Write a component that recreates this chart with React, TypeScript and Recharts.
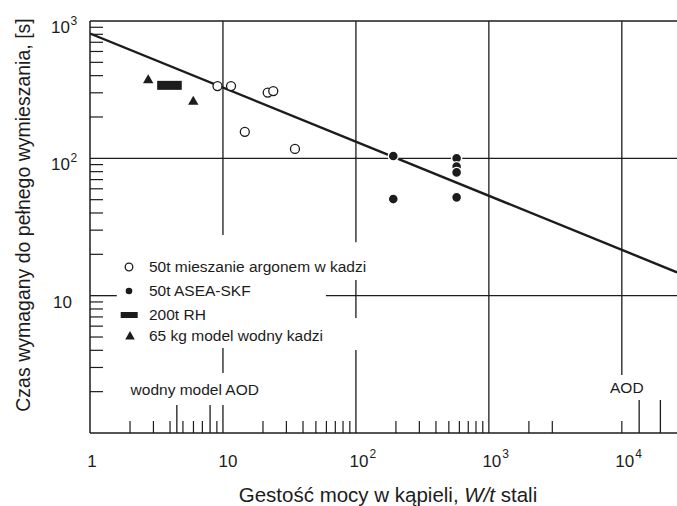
import React from 'react';
import {
  ComposedChart,
  Scatter,
  XAxis,
  YAxis,
  ReferenceLine,
  ReferenceDot,
  Legend,
} from 'recharts';

// punkty pomiarowe (x: W/t, y: s)
const argon50t = [
  { x: 9.1, y: 336 },
  { x: 11.5, y: 336 },
  { x: 21.7, y: 301 },
  { x: 23.9, y: 309 },
  { x: 14.6, y: 156 },
  { x: 34.8, y: 117 },
];
const aseaSkf50t = [
  { x: 191, y: 104 },
  { x: 191, y: 50.5 },
  { x: 572, y: 100 },
  { x: 572, y: 87 },
  { x: 572, y: 79 },
  { x: 572, y: 52 },
];
const rh200t = [
  { x: 3.2, y: 340 },
  { x: 4.9, y: 340 },
];
const waterModel65kg = [
  { x: 2.74, y: 373 },
  { x: 5.98, y: 260 },
];
const fitLine = [
  { x: 1, y: 810 },
  { x: 26000, y: 14.8 },
];

const legendLabels = [
  '50t mieszanie argonem w kadzi',
  '50t ASEA-SKF',
  '200t RH',
  '65 kg model wodny kadzi',
];

const xMajorTicks = [1, 10, 100, 1000, 10000];
const xMinorTicks = [
  2, 3, 4, 5, 6, 7, 9,
  20, 30, 40, 50, 60, 70, 80, 90,
  200, 300, 400, 500, 600, 700, 800, 900,
  2000, 3000,
];
const yMajorTicks = [10, 100, 1000];
const yMinorTicks = [
  2, 3, 4, 5, 6, 7, 8, 9,
  20, 30, 40, 50, 60, 70, 80, 90,
  200, 300, 400, 500, 600, 700, 800, 900,
];

// linie siatki z przerwami (jak na oryginale)
const verticalGrid = [
  { x: 10, from: 27.6, to: 1000 },
  { x: 10, from: 2.73, to: 4.16 },
  { x: 100, from: 24.5, to: 1000 },
  { x: 100, from: 6.87, to: 13.0 },
  { x: 100, from: 1, to: 4.02 },
  { x: 1000, from: 1, to: 1000 },
  { x: 10000, from: 2.64, to: 1000 },
];
const horizontalGrid = [
  { y: 1000, from: 1, to: 26000 },
  { y: 100, from: 1, to: 26000 },
  { y: 10, from: 1, to: 1.59 },
  { y: 10, from: 59.5, to: 26000 },
];
const rangeMarks = [
  { x: 4.5, top: 1.6 },
  { x: 8, top: 1.6 },
  { x: 10, top: 1.6 },
  { x: 13500, top: 1.74 },
  { x: 19500, top: 1.74 },
];
const annotations = [
  { x: 6.14, y: 2.09, text: 'wodny model AOD' },
  { x: 10900, y: 2.13, text: 'AOD' },
];

const INK = '#1c1c1c';
const FONT = '"Liberation Sans", Arial, Helvetica, sans-serif';

const MinorX = ({ x, y }: any) => (
  <line x1={x} x2={x} y1={y} y2={y - 12} stroke={INK} strokeWidth={1.2} />
);

const XTick = ({ x, y, payload }: any) => {
  const v = payload.value;
  if (!xMajorTicks.includes(v)) return <MinorX x={x} y={y} />;
  if (v === 1) {
    return (
      <text x={x + 2} y={y + 34} textAnchor="middle" fontSize={17} fontFamily={FONT} fill={INK}>
        1
      </text>
    );
  }
  const exp = Math.round(Math.log10(v));
  if (exp === 1) {
    return (
      <text x={x + 5} y={y + 34} textAnchor="middle" fontSize={17} fontFamily={FONT} fill={INK}>
        10
      </text>
    );
  }
  return (
    <g>
      {v === 10000 && <MinorX x={x} y={y} />}
      <text x={x + 3} y={y + 34} textAnchor="middle" fontSize={17} fontFamily={FONT} fill={INK}>
        10
      </text>
      <text x={x + 13.5} y={y + 25} textAnchor="start" fontSize={12} fontFamily={FONT} fill={INK}>
        {exp}
      </text>
    </g>
  );
};

const YTick = ({ x, y, payload }: any) => {
  const v = payload.value;
  if (yMajorTicks.includes(v)) {
    const exp = Math.round(Math.log10(v));
    if (exp === 1) {
      return (
        <text x={x - 18} y={y + 12} textAnchor="end" fontSize={17} fontFamily={FONT} fill={INK}>
          10
        </text>
      );
    }
    return (
      <g>
        <text x={x - 20} y={y + 12} textAnchor="end" fontSize={17} fontFamily={FONT} fill={INK}>
          10
        </text>
        <text x={x - 19.5} y={y + 4} textAnchor="start" fontSize={12} fontFamily={FONT} fill={INK}>
          {exp}
        </text>
      </g>
    );
  }
  if (yMinorTicks.includes(v)) {
    return <line x1={x} x2={x + 13} y1={y} y2={y} stroke={INK} strokeWidth={1.2} />;
  }
  return <g />;
};

const XTitle = ({ viewBox }: any) => (
  <text
    x={viewBox.x + 298}
    y={viewBox.y + 69}
    textAnchor="middle"
    fontSize={20.5}
    fontFamily={FONT}
    fill={INK}
  >
    Gestość mocy w kąpieli, <tspan fontStyle="italic">W/t</tspan> stali
  </text>
);

const YTitle = ({ viewBox }: any) => (
  <text
    x={viewBox.x + 30}
    y={viewBox.y + 194}
    transform={`rotate(-90, ${viewBox.x + 30}, ${viewBox.y + 194})`}
    textAnchor="middle"
    fontSize={19.5}
    fontFamily={FONT}
    fill={INK}
  >
    Czas wymagany do pełnego wymieszania, [s]
  </text>
);

const OpenCircle = ({ cx, cy }: any) => (
  <circle cx={cx} cy={cy} r={4.5} fill="#fff" stroke={INK} strokeWidth={1.3} />
);
const FilledCircle = ({ cx, cy }: any) => (
  <circle cx={cx} cy={cy} r={5} fill={INK} stroke="#fff" strokeWidth={1.4} />
);
const Triangle = ({ cx, cy }: any) => (
  <polygon points={`${cx},${cy - 5.5} ${cx - 5.2},${cy + 3.5} ${cx + 5.2},${cy + 3.5}`} fill={INK} />
);
const NoShape = () => <g />;

const legendRowTops = [2.3, 26, 50.3, 70.7];

const legendSymbol = (i: number) => {
  if (i === 0) return <circle cx={12} cy={10} r={3.8} fill="#fff" stroke={INK} strokeWidth={1.3} />;
  if (i === 1) return <circle cx={12} cy={10} r={3.3} fill={INK} />;
  if (i === 2) return <rect x={3.7} y={7} width={17} height={6} fill={INK} />;
  return <polygon points="13,5 8.2,13.5 17.8,13.5" fill={INK} />;
};

const renderLegend = () => (
  <div style={{ position: 'relative', width: 270, height: 92, fontFamily: FONT, fontSize: 15.5, color: INK }}>
    {legendLabels.map((label, i) => (
      <div
        key={label}
        style={{ position: 'absolute', left: 0, top: legendRowTops[i], height: 20, width: 270, lineHeight: '20px', whiteSpace: 'nowrap' }}
      >
        <svg width={26} height={20} style={{ position: 'absolute', left: 0, top: 0 }}>
          {legendSymbol(i)}
        </svg>
        <span style={{ position: 'absolute', left: 32, top: 0 }}>{label}</span>
      </div>
    ))}
  </div>
);

export default function App() {
  return (
    <div style={{ position: 'absolute', left: 0, top: 0, width: 677, height: 506, background: '#fff' }}>
      <ComposedChart width={677} height={506} margin={{ top: 21, right: 0, bottom: 0, left: 0 }}>
        <XAxis
          dataKey="x"
          type="number"
          scale="log"
          domain={[1, 26000]}
          allowDataOverflow
          ticks={[...xMajorTicks, ...xMinorTicks]}
          interval={0}
          tick={<XTick />}
          tickLine={false}
          tickSize={0}
          tickMargin={0}
          height={73}
          axisLine={{ stroke: INK, strokeWidth: 1.5 }}
          label={<XTitle />}
        />
        <YAxis
          dataKey="y"
          type="number"
          scale="log"
          domain={[1, 1000]}
          allowDataOverflow
          ticks={[...yMajorTicks, ...yMinorTicks]}
          interval={0}
          tick={<YTick />}
          tickLine={false}
          tickSize={0}
          tickMargin={0}
          width={90}
          axisLine={{ stroke: INK, strokeWidth: 1.5 }}
          label={<YTitle />}
        />

        {horizontalGrid.map((g, i) => (
          <ReferenceLine
            key={`h${i}`}
            segment={[{ x: g.from, y: g.y }, { x: g.to, y: g.y }]}
            stroke={INK}
            strokeWidth={1.3}
            ifOverflow="visible"
          />
        ))}
        {verticalGrid.map((g, i) => (
          <ReferenceLine
            key={`v${i}`}
            segment={[{ x: g.x, y: g.from }, { x: g.x, y: g.to }]}
            stroke={INK}
            strokeWidth={1.3}
            ifOverflow="visible"
          />
        ))}
        {rangeMarks.map((m, i) => (
          <ReferenceLine
            key={`m${i}`}
            segment={[{ x: m.x, y: 1 }, { x: m.x, y: m.top }]}
            stroke={INK}
            strokeWidth={1.3}
            ifOverflow="visible"
          />
        ))}
        {annotations.map((a) => (
          <ReferenceDot
            key={a.text}
            x={a.x}
            y={a.y}
            ifOverflow="visible"
            shape={(p: any) => (
              <text x={p.cx} y={p.cy + 5.5} textAnchor="middle" fontSize={15.5} fontFamily={FONT} fill={INK}>
                {a.text}
              </text>
            )}
          />
        ))}

        <Scatter
          name="fit"
          data={fitLine}
          line={{ stroke: INK, strokeWidth: 2.4 }}
          shape={NoShape}
          legendType="none"
          isAnimationActive={false}
        />
        <Scatter
          name="200t RH"
          data={rh200t}
          line={{ stroke: INK, strokeWidth: 9 }}
          shape={NoShape}
          isAnimationActive={false}
        />
        <Scatter name="50t mieszanie argonem w kadzi" data={argon50t} shape={OpenCircle} isAnimationActive={false} />
        <Scatter name="50t ASEA-SKF" data={aseaSkf50t} shape={FilledCircle} isAnimationActive={false} />
        <Scatter name="65 kg model wodny kadzi" data={waterModel65kg} shape={Triangle} isAnimationActive={false} />

        <Legend
          layout="vertical"
          align="center"
          verticalAlign="middle"
          content={renderLegend}
          wrapperStyle={{ left: 117, top: 255, width: 270, height: 92 }}
        />
      </ComposedChart>
    </div>
  );
}
